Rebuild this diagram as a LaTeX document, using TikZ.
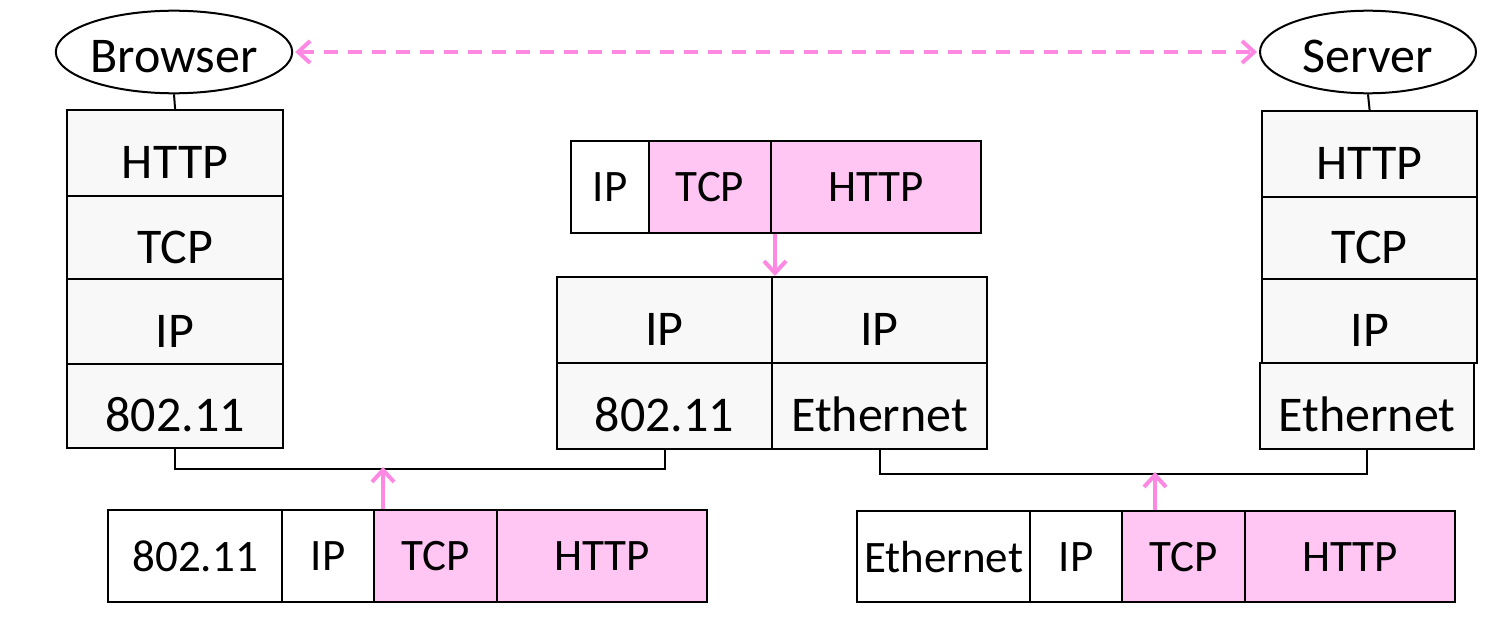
\documentclass[tikz,border=0pt]{standalone}
\usepackage{fontspec}
\setmainfont{Carlito}
\usetikzlibrary{shapes.geometric,arrows.meta}
\definecolor{layerfill}{HTML}{F8F8F8}
\definecolor{pinkfill}{HTML}{FFC6F4}
\definecolor{pinkline}{HTML}{FF88E2}
\begin{document}
\begin{tikzpicture}[x=1pt,y=-1pt,
  layer/.style={draw,line width=2.2pt,fill=layerfill,inner sep=0pt,anchor=north west,
    font=\fontsize{50}{50}\selectfont,text height=60pt,text depth=9pt},
  wcell/.style={draw,line width=2.2pt,fill=white,inner sep=0pt,anchor=north west,
    font=\fontsize{45}{45}\selectfont},
  pcell/.style={wcell,fill=pinkfill},
  host/.style={ellipse,draw,line width=2pt,minimum width=216pt,minimum height=76pt,inner sep=0pt,
    font=\fontsize{50}{50}\selectfont,text height=50pt,text depth=8.4pt},
  conn/.style={line width=2pt},
  parrow/.style={draw=pinkline,line width=4pt,-{Straight Barb[length=12pt,width=22pt]}},
]
\useasboundingbox (0,0) rectangle (1493,618);

% hosts
\node[host] (browser) at (174,52) {Browser};
\node[host] (server) at (1368,52) {Server};

% browser stack
\node[layer,minimum width=216pt,minimum height=86pt] (bhttp) at (66,109) {HTTP};
\node[layer,minimum width=216pt,minimum height=83pt] (btcp) at (66,195) {TCP};
\node[layer,minimum width=216pt,minimum height=85pt] (bip) at (66,278) {IP};
\node[layer,minimum width=216pt,minimum height=84pt] (bmac) at (66,363) {802.11};

% server stack
\node[layer,minimum width=215pt,minimum height=86pt] (shttp) at (1261,110) {HTTP};
\node[layer,minimum width=215pt,minimum height=82pt] (stcp) at (1261,196) {TCP};
\node[layer,minimum width=215pt,minimum height=84pt] (sip) at (1261,278) {IP};
\node[layer,minimum width=214pt,minimum height=86pt] (seth) at (1259,362) {Ethernet};

% router
\node[layer,minimum width=215pt,minimum height=86pt] (rip1) at (556,276) {IP};
\node[layer,minimum width=215pt,minimum height=86pt] (rmac) at (556,362) {802.11};
\node[layer,minimum width=215pt,minimum height=86pt] (rip2) at (771,276) {IP};
\node[layer,minimum width=215pt,minimum height=86pt] (reth) at (771,362) {Ethernet};

% top packet
\node[wcell,minimum width=78pt,minimum height=92pt] (tip) at (570,140) {IP};
\node[pcell,minimum width=122pt,minimum height=92pt] (ttcp) at (648,140) {TCP};
\node[pcell,minimum width=210pt,minimum height=92pt] (thttp) at (770,140) {HTTP};

% bottom-left packet
\node[wcell,minimum width=174pt,minimum height=92pt] (amac) at (107,509) {802.11};
\node[wcell,minimum width=92pt,minimum height=92pt] (aip) at (281,509) {IP};
\node[pcell,minimum width=123pt,minimum height=92pt] (atcp) at (373,509) {TCP};
\node[pcell,minimum width=210pt,minimum height=92pt] (ahttp) at (496,509) {HTTP};

% bottom-right packet
\node[wcell,minimum width=173pt,minimum height=91pt] (ceth) at (856,510) {Ethernet};
\node[wcell,minimum width=92pt,minimum height=91pt] (cip) at (1029,510) {IP};
\node[pcell,minimum width=123pt,minimum height=91pt] (ctcp) at (1121,510) {TCP};
\node[pcell,minimum width=210pt,minimum height=91pt] (chttp) at (1244,510) {HTTP};

% connectors
\draw[conn] (browser.south) -- (bhttp.north);
\draw[conn] (server.south) -- (shttp.north);
\draw[conn] (bmac.south) -- ++(0,20) -| (rmac.south);
\draw[conn] (reth.south) -- ++(0,24) -| (seth.south);

\coordinate (j1) at (383,467);
\coordinate (j2) at (1155,472);
\draw[parrow] (atcp.north -| j1) -- (j1);
\draw[parrow] (ctcp.north -| j2) -- (j2);
\draw[parrow] ([xshift=5pt]thttp.south west) -- ([xshift=4pt]rip2.north west);

\draw[draw=pinkline,line width=4pt,dash pattern=on 14pt off 10pt,
  {Straight Barb[length=12pt,width=22pt]}-{Straight Barb[length=12pt,width=22pt]}]
  ([xshift=2pt]browser.east) -- ([xshift=-2pt]server.west);
\end{tikzpicture}
\end{document}
